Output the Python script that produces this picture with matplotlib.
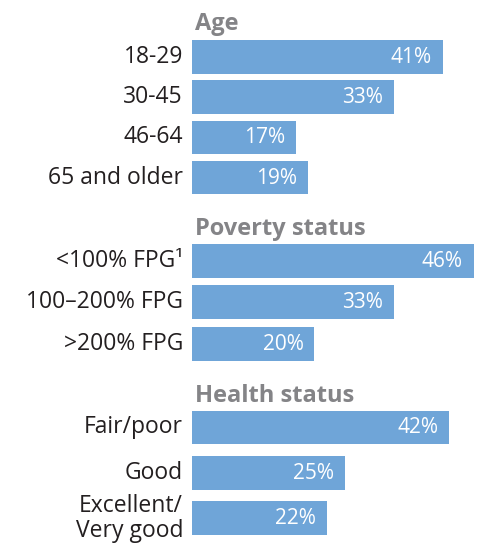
import matplotlib
matplotlib.use("Agg")
import matplotlib.pyplot as plt

# -----------------------------------
# data
# -----------------------------------
groups = ["Age", "Poverty status", "Health status"]
age_labels = ["18-29", "30-45", "46-64", "65 and older"]
age_values = [41, 33, 17, 19]
poverty_labels = ["<100% FPG\u00b9", "100\u2013200% FPG", ">200% FPG"]
poverty_values = [46, 33, 20]
health_labels = ["Fair/poor", "Good", "Excellent/\nVery good"]
health_values = [42, 25, 22]

all_labels = [age_labels, poverty_labels, health_labels]
all_values = [age_values, poverty_values, health_values]

# layout (pixel units, top = 0)
header_y = [30, 235, 402]
first_center = [56.8, 260.7, 427.3]
pitch = [40.3, 41.5, 45.5]
bar_h = 33.6

BLUE = "#6fa5d8"
GRAY = "#848487"
DARK = "#231f20"
FONT = "Open Sans"

W, H = 479, 545
fig = plt.figure(figsize=(W / 100, H / 100), dpi=100)
left_px = 192
px_per_pct = 6.12
ax = fig.add_axes([left_px / W, 0, 1 - left_px / W, 1])
ax.set_xlim(0, (W - left_px) / px_per_pct)
ax.set_ylim(H, 0)
ax.axis("off")

for g in range(len(groups)):
    ax.text(0.5, header_y[g], groups[g], fontsize=17, fontweight="bold",
            color=GRAY, family=FONT, va="baseline", ha="left")
    for i, (lab, val) in enumerate(zip(all_labels[g], all_values[g])):
        yc = first_center[g] + i * pitch[g]
        ax.barh(yc, val, height=bar_h, color=BLUE, left=0)
        ax.text(val - 11 / px_per_pct, yc + 0.5, f"{val}%", color="white",
                fontsize=15, family=FONT, ha="right", va="center")
        ax.text(-9 / px_per_pct, yc, lab, color=DARK, fontsize=16.5,
                family=FONT, ha="right", va="center", clip_on=False,
                linespacing=1.05)

fig.savefig("out.png", dpi=100)
